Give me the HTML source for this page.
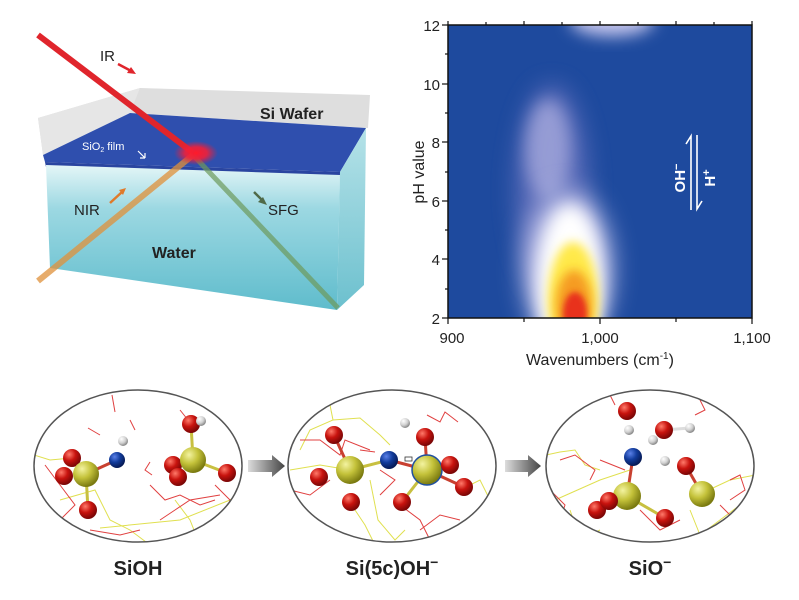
<!DOCTYPE html>
<html><head><meta charset="utf-8"><style>
html,body{margin:0;padding:0;background:#fff;}
svg{display:block;}
text{font-family:"Liberation Sans",sans-serif;}
</style></head><body>
<svg width="799" height="600" viewBox="0 0 799 600" xmlns="http://www.w3.org/2000/svg">
<defs>
<filter id="b12" x="-50%" y="-50%" width="200%" height="200%"><feGaussianBlur stdDeviation="12"/></filter>
<filter id="b8" x="-50%" y="-50%" width="200%" height="200%"><feGaussianBlur stdDeviation="8"/></filter>
<filter id="b5" x="-50%" y="-50%" width="200%" height="200%"><feGaussianBlur stdDeviation="5"/></filter>
<filter id="b3" x="-50%" y="-50%" width="200%" height="200%"><feGaussianBlur stdDeviation="3"/></filter>
<clipPath id="plot"><rect x="448" y="25" width="304" height="293"/></clipPath>
<linearGradient id="water" x1="0" y1="0" x2="0" y2="1">
<stop offset="0" stop-color="#e4f6f7"/><stop offset="0.3" stop-color="#9cd8e2"/><stop offset="1" stop-color="#5fbccc"/></linearGradient>
<linearGradient id="waterR" x1="0" y1="0" x2="0" y2="1">
<stop offset="0" stop-color="#b5e2e8"/><stop offset="1" stop-color="#6cc0ce"/></linearGradient>
<linearGradient id="arr" x1="0" y1="0" x2="1" y2="0"><stop offset="0" stop-color="#ddd"/><stop offset="1" stop-color="#444"/></linearGradient>
<radialGradient id="spot"><stop offset="0" stop-color="#ff1a2a"/><stop offset="0.5" stop-color="#f0203a" stop-opacity="0.9"/><stop offset="1" stop-color="#e02040" stop-opacity="0"/></radialGradient>
<radialGradient id="ball" cx="0.35" cy="0.3" r="0.7"><stop offset="0" stop-color="#ff7a6a"/><stop offset="0.5" stop-color="#c8130e"/><stop offset="1" stop-color="#7a0606"/></radialGradient>
<radialGradient id="si" cx="0.35" cy="0.3" r="0.7"><stop offset="0" stop-color="#f3f3a0"/><stop offset="0.5" stop-color="#c4c23a"/><stop offset="1" stop-color="#7a7a10"/></radialGradient>
<radialGradient id="nb" cx="0.35" cy="0.3" r="0.7"><stop offset="0" stop-color="#5a80e8"/><stop offset="0.5" stop-color="#123c9c"/><stop offset="1" stop-color="#061a55"/></radialGradient>
<radialGradient id="hw" cx="0.35" cy="0.3" r="0.7"><stop offset="0" stop-color="#fff"/><stop offset="0.6" stop-color="#d0d0d0"/><stop offset="1" stop-color="#888"/></radialGradient>
<clipPath id="e1"><ellipse cx="138" cy="466" rx="104" ry="76"/></clipPath>
<clipPath id="e2"><ellipse cx="392" cy="466" rx="104" ry="76"/></clipPath>
<clipPath id="e3"><ellipse cx="650" cy="466" rx="104" ry="76"/></clipPath>
</defs>

<!-- ===== Left diagram ===== -->
<polygon points="38,118 140,88 370,95 368,128 130,113 43,155" fill="#dedede"/>
<polygon points="38,118 43,155 130,113 140,88" fill="#e6e6e6"/>
<polygon points="43,155 130,113 366,128 340,172 45,162" fill="#2f4fae"/>
<polygon points="45,162 340,172 340,177 46,167" fill="#2a45a0"/>
<polygon points="46,165 340,175 337,310 50,268" fill="url(#water)"/>
<polygon points="340,172 366,128 364,285 337,310" fill="url(#waterR)"/>
<line x1="38" y1="35" x2="192" y2="152" stroke="#e0252c" stroke-width="6"/>
<line x1="193" y1="155" x2="38" y2="281" stroke="#e0913a" stroke-width="6" opacity="0.75"/>
<line x1="193" y1="155" x2="338" y2="308" stroke="#6d9a5c" stroke-width="5" opacity="0.7"/>
<ellipse cx="196" cy="153" rx="22" ry="12" fill="url(#spot)"/>
<text x="100" y="61" font-size="15" fill="#222">IR</text>
<path d="M118,64 L133,72" stroke="#e0252c" stroke-width="2.5"/><polygon points="136,74 127,73 131,67" fill="#e0252c"/>
<text x="260" y="119" font-size="16" font-weight="bold" fill="#222">Si Wafer</text>
<text x="82" y="150" font-size="11" fill="#fff">SiO<tspan font-size="7" dy="2">2</tspan><tspan dy="-2"> film</tspan></text>
<path d="M138,151 L145,158 M145,158 L140,158 M145,158 L145,153" stroke="#fff" stroke-width="1.2" fill="none"/>
<text x="74" y="215" font-size="15" fill="#222">NIR</text>
<path d="M110,203 L122,192" stroke="#e07a2a" stroke-width="2.5"/><polygon points="126,188 119,190 123,195" fill="#e07a2a"/>
<text x="268" y="215" font-size="15" fill="#222">SFG</text>
<path d="M254,192 L264,202" stroke="#4f6a48" stroke-width="2.5"/><polygon points="267,205 258,202 263,197" fill="#4f6a48"/>
<text x="152" y="258" font-size="16" font-weight="bold" fill="#222">Water</text>

<!-- ===== Heatmap ===== -->
<rect x="448" y="25" width="304" height="293" fill="#1e4a9e"/>
<g clip-path="url(#plot)">
<ellipse cx="612" cy="20" rx="42" ry="16" fill="#c8c8ee" filter="url(#b8)"/>
<ellipse cx="552" cy="190" rx="36" ry="105" fill="#6a74c0" opacity="0.8" filter="url(#b12)"/>
<ellipse cx="548" cy="150" rx="22" ry="50" fill="#a4a8dc" opacity="0.8" filter="url(#b8)"/>
<ellipse cx="568" cy="270" rx="45" ry="80" fill="#b4b8e4" filter="url(#b12)"/>
<ellipse cx="570" cy="285" rx="33" ry="80" fill="#ffffff" filter="url(#b8)"/>
<ellipse cx="573" cy="300" rx="25" ry="58" fill="#ffe94a" filter="url(#b5)"/>
<ellipse cx="574" cy="306" rx="18" ry="36" fill="#f59b20" filter="url(#b5)"/>
<ellipse cx="575" cy="314" rx="12" ry="22" fill="#e8301a" filter="url(#b3)"/>
</g>
<rect x="448" y="25" width="304" height="293" fill="none" stroke="#111" stroke-width="1.5"/>
<g stroke="#111" stroke-width="1.2">
<line x1="448" y1="318" x2="448" y2="324"/><line x1="524" y1="318" x2="524" y2="322"/><line x1="600" y1="318" x2="600" y2="324"/><line x1="676" y1="318" x2="676" y2="322"/><line x1="752" y1="318" x2="752" y2="324"/>
<line x1="448" y1="25" x2="448" y2="21"/><line x1="486" y1="25" x2="486" y2="22"/><line x1="524" y1="25" x2="524" y2="21"/><line x1="562" y1="25" x2="562" y2="22"/><line x1="600" y1="25" x2="600" y2="21"/><line x1="638" y1="25" x2="638" y2="22"/><line x1="676" y1="25" x2="676" y2="21"/><line x1="714" y1="25" x2="714" y2="22"/><line x1="752" y1="25" x2="752" y2="21"/>
<line x1="442" y1="25" x2="448" y2="25"/><line x1="442" y1="84" x2="448" y2="84"/><line x1="442" y1="142" x2="448" y2="142"/><line x1="442" y1="201" x2="448" y2="201"/><line x1="442" y1="259" x2="448" y2="259"/><line x1="442" y1="318" x2="448" y2="318"/>
<line x1="445" y1="54" x2="448" y2="54"/><line x1="445" y1="113" x2="448" y2="113"/><line x1="445" y1="172" x2="448" y2="172"/><line x1="445" y1="230" x2="448" y2="230"/><line x1="445" y1="289" x2="448" y2="289"/>
</g>
<g font-size="15" fill="#222" text-anchor="end">
<text x="440" y="31">12</text><text x="440" y="90">10</text><text x="440" y="148">8</text><text x="440" y="207">6</text><text x="440" y="265">4</text><text x="440" y="324">2</text>
</g>
<g font-size="15" fill="#222" text-anchor="middle">
<text x="452" y="343">900</text><text x="600" y="343">1,000</text><text x="752" y="343">1,100</text>
<text x="600" y="365" font-size="16">Wavenumbers (cm<tspan font-size="10" dy="-6">-1</tspan><tspan dy="6">)</tspan></text>
</g>
<text transform="translate(424,172) rotate(-90)" font-size="16" fill="#222" text-anchor="middle">pH value</text>
<!-- OH-/H+ arrows -->
<text transform="translate(685,178) rotate(-90)" font-size="15" font-weight="bold" fill="#fff" text-anchor="middle">OH<tspan dy="-5" font-size="11">−</tspan></text>
<text transform="translate(715,178) rotate(-90)" font-size="15" font-weight="bold" fill="#fff" text-anchor="middle">H<tspan dy="-5" font-size="11">+</tspan></text>
<path d="M691,210 L691,136 L686,144" stroke="#fff" stroke-width="1.6" fill="none"/>
<path d="M697,135 L697,209 L702,201" stroke="#fff" stroke-width="1.6" fill="none"/>

<!-- ===== Bottom molecules ===== -->
<g clip-path="url(#e1)" stroke-width="1" fill="none">
<polyline points="34,455 50,460 72,458" stroke="#e0e050"/>
<polyline points="60,500 95,490 110,520 130,530 150,545" stroke="#e0e050"/>
<polyline points="100,528 180,520 230,500 243,490" stroke="#e0e050"/>
<polyline points="175,500 190,520 200,545" stroke="#e0e050"/>
<polyline points="45,465 60,485 75,505 60,520" stroke="#e04040"/>
<polyline points="112,395 115,412 M125,400 130,415 140,410" stroke="#e04040"/>
<polyline points="130,420 135,430" stroke="#e04040"/>
<polyline points="88,428 100,435" stroke="#e04040"/>
<polyline points="150,462 145,470 152,475" stroke="#e04040"/>
<polyline points="150,485 165,500 180,495 200,505 215,500" stroke="#e04040"/>
<polyline points="160,520 175,510 190,500 220,495" stroke="#e04040"/>
<polyline points="180,410 188,420" stroke="#e04040"/>
<polyline points="215,485 230,500 225,515" stroke="#e04040"/>
<polyline points="90,530 120,535 140,530" stroke="#e04040"/>
</g>
<ellipse cx="138" cy="466" rx="104" ry="76" fill="none" stroke="#555" stroke-width="1.5"/>
<g stroke-width="3">
<line x1="86" y1="474" x2="117" y2="460" stroke="#c84030"/>
<line x1="86" y1="474" x2="88" y2="510" stroke="#c8c040"/>
<line x1="193" y1="460" x2="191" y2="424" stroke="#c8c040"/>
<line x1="193" y1="460" x2="227" y2="473" stroke="#c8c040"/>
</g>
<circle cx="72" cy="458" r="9" fill="url(#ball)"/><circle cx="64" cy="476" r="9" fill="url(#ball)"/>
<circle cx="86" cy="474" r="13" fill="url(#si)"/><circle cx="88" cy="510" r="9" fill="url(#ball)"/>
<circle cx="117" cy="460" r="8" fill="url(#nb)"/><circle cx="123" cy="441" r="5" fill="url(#hw)"/>
<circle cx="191" cy="424" r="9" fill="url(#ball)"/><circle cx="201" cy="421" r="5" fill="url(#hw)"/>
<circle cx="173" cy="465" r="9" fill="url(#ball)"/><circle cx="178" cy="477" r="9" fill="url(#ball)"/>
<circle cx="193" cy="460" r="13" fill="url(#si)"/><circle cx="227" cy="473" r="9" fill="url(#ball)"/>
<polygon points="248,460 272,460 272,455 285,466 272,477 272,472 248,472" fill="url(#arr)"/>
<g clip-path="url(#e2)" stroke-width="1" fill="none">
<polyline points="330,405 333,420 310,430 300,450" stroke="#e0e050"/>
<polyline points="333,420 360,418 380,435 390,445" stroke="#e0e050"/>
<polyline points="290,470 320,465 350,470" stroke="#e0e050"/>
<polyline points="370,480 378,520 395,540 405,530" stroke="#e0e050"/>
<polyline points="355,510 365,525 375,545" stroke="#e0e050"/>
<polyline points="460,490 480,480 490,500 480,515" stroke="#e0e050"/>
<polyline points="300,440 320,440 340,455 345,440 370,450" stroke="#e04040"/>
<polyline points="290,490 310,495 330,480" stroke="#e04040"/>
<polyline points="380,470 395,480 380,495" stroke="#e04040"/>
<polyline points="427,415 440,422 445,412 458,422" stroke="#e04040"/>
<polyline points="400,505 420,520 430,540" stroke="#e04040"/>
<polyline points="420,530 440,515 460,520" stroke="#e04040"/>
<polyline points="360,450 375,452" stroke="#e04040"/>
</g>
<ellipse cx="392" cy="466" rx="104" ry="76" fill="none" stroke="#555" stroke-width="1.5"/>
<g stroke-width="3">
<line x1="350" y1="470" x2="389" y2="460" stroke="#c8c040"/>
<line x1="389" y1="460" x2="427" y2="470" stroke="#c84030"/>
<line x1="350" y1="470" x2="334" y2="435" stroke="#c84030"/>
<line x1="427" y1="470" x2="425" y2="437" stroke="#c84030"/>
<line x1="427" y1="470" x2="402" y2="502" stroke="#c8c040"/>
<line x1="427" y1="470" x2="464" y2="487" stroke="#c84030"/>
</g>
<circle cx="334" cy="435" r="9" fill="url(#ball)"/><circle cx="319" cy="477" r="9" fill="url(#ball)"/>
<circle cx="350" cy="470" r="14" fill="url(#si)"/><circle cx="351" cy="502" r="9" fill="url(#ball)"/>
<circle cx="389" cy="460" r="9" fill="url(#nb)"/><circle cx="405" cy="423" r="5" fill="url(#hw)"/>
<circle cx="425" cy="437" r="9" fill="url(#ball)"/>
<circle cx="427" cy="470" r="15" fill="url(#si)" stroke="#2050a0" stroke-width="1.5"/>
<circle cx="450" cy="465" r="9" fill="url(#ball)"/><circle cx="464" cy="487" r="9" fill="url(#ball)"/>
<circle cx="402" cy="502" r="9" fill="url(#ball)"/>
<rect x="405" y="457" width="7" height="4" fill="#fff" stroke="#333" stroke-width="0.8"/>
<polygon points="505,460 528,460 528,455 541,466 528,477 528,472 505,472" fill="url(#arr)"/>
<g clip-path="url(#e3)" stroke-width="1" fill="none">
<polyline points="546,455 560,452 575,450 585,465 600,470" stroke="#e0e050"/>
<polyline points="555,500 600,480 630,470" stroke="#e0e050"/>
<polyline points="570,510 580,540 600,530" stroke="#e0e050"/>
<polyline points="700,494 730,480 755,475" stroke="#e0e050"/>
<polyline points="690,510 700,535 740,505" stroke="#e0e050"/>
<polyline points="560,460 575,455 595,470 590,480" stroke="#e04040"/>
<polyline points="550,490 565,505 560,520" stroke="#e04040"/>
<polyline points="600,460 625,470" stroke="#e04040"/>
<polyline points="610,395 615,405 M640,400 645,410" stroke="#e04040"/>
<polyline points="700,400 705,410 695,415" stroke="#e04040"/>
<polyline points="730,480 740,475 745,490 730,500" stroke="#e04040"/>
<polyline points="640,510 660,530 680,520" stroke="#e04040"/>
<polyline points="720,505 735,520" stroke="#e04040"/>
</g>
<ellipse cx="650" cy="466" rx="104" ry="76" fill="none" stroke="#555" stroke-width="1.5"/>
<g stroke-width="3">
<line x1="627" y1="496" x2="633" y2="457" stroke="#c84030"/>
<line x1="627" y1="496" x2="665" y2="518" stroke="#c8c040"/>
<line x1="702" y1="494" x2="686" y2="466" stroke="#c84030"/>
<line x1="664" y1="430" x2="690" y2="428" stroke="#ddd"/>
</g>
<circle cx="627" cy="411" r="9" fill="url(#ball)"/><circle cx="629" cy="430" r="5" fill="url(#hw)"/>
<circle cx="664" cy="430" r="9" fill="url(#ball)"/><circle cx="690" cy="428" r="5" fill="url(#hw)"/>
<circle cx="653" cy="440" r="5" fill="url(#hw)"/>
<circle cx="633" cy="457" r="9" fill="url(#nb)"/>
<circle cx="665" cy="461" r="5" fill="url(#hw)"/>
<circle cx="686" cy="466" r="9" fill="url(#ball)"/>
<circle cx="597" cy="510" r="9" fill="url(#ball)"/>
<circle cx="627" cy="496" r="14" fill="url(#si)"/>
<circle cx="609" cy="501" r="9" fill="url(#ball)"/>
<circle cx="665" cy="518" r="9" fill="url(#ball)"/>
<circle cx="702" cy="494" r="13" fill="url(#si)"/>

<g font-size="20" font-weight="bold" fill="#222" text-anchor="middle">
<text x="138" y="575">SiOH</text>
<text x="392" y="575">Si(5c)OH<tspan dy="-8" font-size="14">−</tspan></text>
<text x="650" y="575">SiO<tspan dy="-8" font-size="14">−</tspan></text>
</g>
</svg>
</body></html>
